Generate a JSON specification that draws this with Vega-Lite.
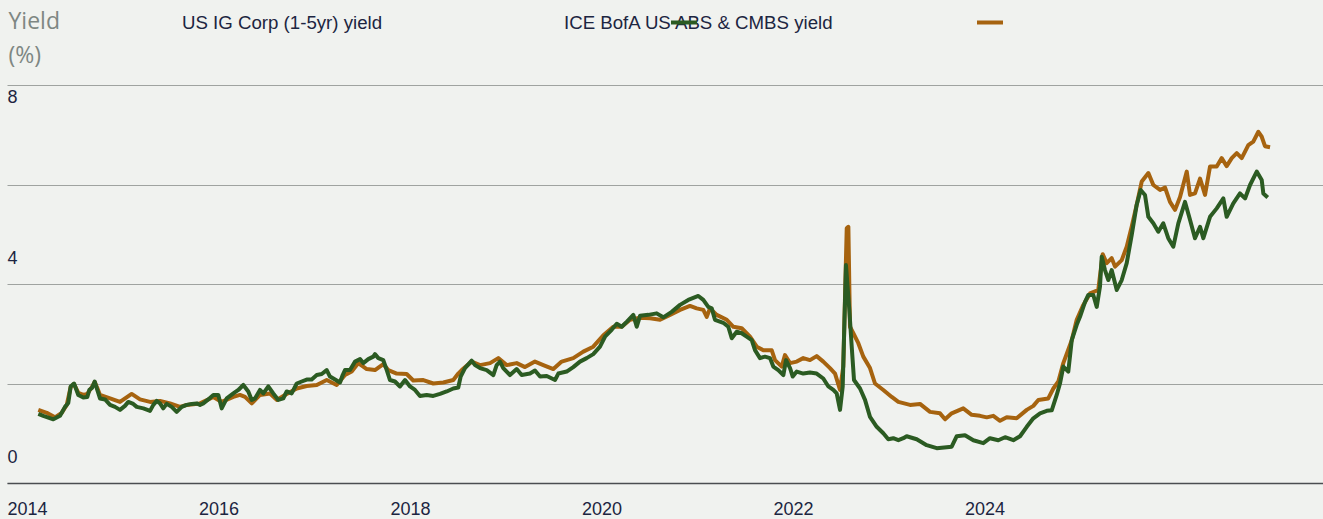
{
  "$schema": "https://vega.github.io/schema/vega-lite/v6.json",
  "width": 1316,
  "height": 398,
  "autosize": {"type": "none"},
  "padding": {"left": 7, "top": 85, "right": 0, "bottom": 36},
  "background": "#f0f2ef",
  "config": {"view": {"stroke": null}, "font": "Liberation Sans"},
  "datasets": {
    "ig": [
      {"series":"US IG Corp (1-5yr) yield","year":2014.327,"yield":1.39},
      {"series":"US IG Corp (1-5yr) yield","year":2014.379,"yield":1.35},
      {"series":"US IG Corp (1-5yr) yield","year":2014.484,"yield":1.28},
      {"series":"US IG Corp (1-5yr) yield","year":2014.554,"yield":1.35},
      {"series":"US IG Corp (1-5yr) yield","year":2014.606,"yield":1.53},
      {"series":"US IG Corp (1-5yr) yield","year":2014.640,"yield":1.61},
      {"series":"US IG Corp (1-5yr) yield","year":2014.665,"yield":1.94},
      {"series":"US IG Corp (1-5yr) yield","year":2014.700,"yield":2.00},
      {"series":"US IG Corp (1-5yr) yield","year":2014.745,"yield":1.77},
      {"series":"US IG Corp (1-5yr) yield","year":2014.797,"yield":1.72},
      {"series":"US IG Corp (1-5yr) yield","year":2014.839,"yield":1.73},
      {"series":"US IG Corp (1-5yr) yield","year":2014.860,"yield":1.87},
      {"series":"US IG Corp (1-5yr) yield","year":2014.888,"yield":1.91},
      {"series":"US IG Corp (1-5yr) yield","year":2014.916,"yield":2.04},
      {"series":"US IG Corp (1-5yr) yield","year":2014.943,"yield":1.87},
      {"series":"US IG Corp (1-5yr) yield","year":2014.971,"yield":1.70},
      {"series":"US IG Corp (1-5yr) yield","year":2015.024,"yield":1.68},
      {"series":"US IG Corp (1-5yr) yield","year":2015.076,"yield":1.57},
      {"series":"US IG Corp (1-5yr) yield","year":2015.128,"yield":1.53},
      {"series":"US IG Corp (1-5yr) yield","year":2015.180,"yield":1.47},
      {"series":"US IG Corp (1-5yr) yield","year":2015.232,"yield":1.55},
      {"series":"US IG Corp (1-5yr) yield","year":2015.267,"yield":1.63},
      {"series":"US IG Corp (1-5yr) yield","year":2015.319,"yield":1.59},
      {"series":"US IG Corp (1-5yr) yield","year":2015.355,"yield":1.53},
      {"series":"US IG Corp (1-5yr) yield","year":2015.424,"yield":1.50},
      {"series":"US IG Corp (1-5yr) yield","year":2015.494,"yield":1.45},
      {"series":"US IG Corp (1-5yr) yield","year":2015.528,"yield":1.57},
      {"series":"US IG Corp (1-5yr) yield","year":2015.564,"yield":1.65},
      {"series":"US IG Corp (1-5yr) yield","year":2015.598,"yield":1.60},
      {"series":"US IG Corp (1-5yr) yield","year":2015.632,"yield":1.50},
      {"series":"US IG Corp (1-5yr) yield","year":2015.668,"yield":1.59},
      {"series":"US IG Corp (1-5yr) yield","year":2015.720,"yield":1.53},
      {"series":"US IG Corp (1-5yr) yield","year":2015.772,"yield":1.43},
      {"series":"US IG Corp (1-5yr) yield","year":2015.825,"yield":1.53},
      {"series":"US IG Corp (1-5yr) yield","year":2015.877,"yield":1.57},
      {"series":"US IG Corp (1-5yr) yield","year":2015.929,"yield":1.59},
      {"series":"US IG Corp (1-5yr) yield","year":2015.981,"yield":1.60},
      {"series":"US IG Corp (1-5yr) yield","year":2016.016,"yield":1.57},
      {"series":"US IG Corp (1-5yr) yield","year":2016.050,"yield":1.60},
      {"series":"US IG Corp (1-5yr) yield","year":2016.102,"yield":1.68},
      {"series":"US IG Corp (1-5yr) yield","year":2016.155,"yield":1.77},
      {"series":"US IG Corp (1-5yr) yield","year":2016.207,"yield":1.77},
      {"series":"US IG Corp (1-5yr) yield","year":2016.242,"yield":1.50},
      {"series":"US IG Corp (1-5yr) yield","year":2016.295,"yield":1.70},
      {"series":"US IG Corp (1-5yr) yield","year":2016.364,"yield":1.80},
      {"series":"US IG Corp (1-5yr) yield","year":2016.416,"yield":1.87},
      {"series":"US IG Corp (1-5yr) yield","year":2016.468,"yield":1.97},
      {"series":"US IG Corp (1-5yr) yield","year":2016.520,"yield":1.84},
      {"series":"US IG Corp (1-5yr) yield","year":2016.556,"yield":1.67},
      {"series":"US IG Corp (1-5yr) yield","year":2016.590,"yield":1.70},
      {"series":"US IG Corp (1-5yr) yield","year":2016.642,"yield":1.87},
      {"series":"US IG Corp (1-5yr) yield","year":2016.677,"yield":1.80},
      {"series":"US IG Corp (1-5yr) yield","year":2016.729,"yield":1.94},
      {"series":"US IG Corp (1-5yr) yield","year":2016.781,"yield":1.80},
      {"series":"US IG Corp (1-5yr) yield","year":2016.834,"yield":1.67},
      {"series":"US IG Corp (1-5yr) yield","year":2016.886,"yield":1.70},
      {"series":"US IG Corp (1-5yr) yield","year":2016.921,"yield":1.84},
      {"series":"US IG Corp (1-5yr) yield","year":2016.973,"yield":1.80},
      {"series":"US IG Corp (1-5yr) yield","year":2017.026,"yield":2.00},
      {"series":"US IG Corp (1-5yr) yield","year":2017.078,"yield":2.04},
      {"series":"US IG Corp (1-5yr) yield","year":2017.130,"yield":2.08},
      {"series":"US IG Corp (1-5yr) yield","year":2017.182,"yield":2.08},
      {"series":"US IG Corp (1-5yr) yield","year":2017.235,"yield":2.17},
      {"series":"US IG Corp (1-5yr) yield","year":2017.287,"yield":2.19},
      {"series":"US IG Corp (1-5yr) yield","year":2017.339,"yield":2.27},
      {"series":"US IG Corp (1-5yr) yield","year":2017.373,"yield":2.14},
      {"series":"US IG Corp (1-5yr) yield","year":2017.426,"yield":2.08},
      {"series":"US IG Corp (1-5yr) yield","year":2017.478,"yield":2.02},
      {"series":"US IG Corp (1-5yr) yield","year":2017.506,"yield":2.17},
      {"series":"US IG Corp (1-5yr) yield","year":2017.530,"yield":2.27},
      {"series":"US IG Corp (1-5yr) yield","year":2017.582,"yield":2.27},
      {"series":"US IG Corp (1-5yr) yield","year":2017.635,"yield":2.44},
      {"series":"US IG Corp (1-5yr) yield","year":2017.687,"yield":2.49},
      {"series":"US IG Corp (1-5yr) yield","year":2017.721,"yield":2.41},
      {"series":"US IG Corp (1-5yr) yield","year":2017.773,"yield":2.49},
      {"series":"US IG Corp (1-5yr) yield","year":2017.826,"yield":2.54},
      {"series":"US IG Corp (1-5yr) yield","year":2017.843,"yield":2.59},
      {"series":"US IG Corp (1-5yr) yield","year":2017.878,"yield":2.51},
      {"series":"US IG Corp (1-5yr) yield","year":2017.930,"yield":2.47},
      {"series":"US IG Corp (1-5yr) yield","year":2017.966,"yield":2.27},
      {"series":"US IG Corp (1-5yr) yield","year":2018.000,"yield":2.07},
      {"series":"US IG Corp (1-5yr) yield","year":2018.052,"yield":2.04},
      {"series":"US IG Corp (1-5yr) yield","year":2018.104,"yield":1.94},
      {"series":"US IG Corp (1-5yr) yield","year":2018.157,"yield":2.07},
      {"series":"US IG Corp (1-5yr) yield","year":2018.209,"yield":1.94},
      {"series":"US IG Corp (1-5yr) yield","year":2018.261,"yield":1.87},
      {"series":"US IG Corp (1-5yr) yield","year":2018.313,"yield":1.75},
      {"series":"US IG Corp (1-5yr) yield","year":2018.383,"yield":1.77},
      {"series":"US IG Corp (1-5yr) yield","year":2018.452,"yield":1.75},
      {"series":"US IG Corp (1-5yr) yield","year":2018.522,"yield":1.79},
      {"series":"US IG Corp (1-5yr) yield","year":2018.592,"yield":1.84},
      {"series":"US IG Corp (1-5yr) yield","year":2018.661,"yield":1.90},
      {"series":"US IG Corp (1-5yr) yield","year":2018.713,"yield":1.92},
      {"series":"US IG Corp (1-5yr) yield","year":2018.738,"yield":2.14},
      {"series":"US IG Corp (1-5yr) yield","year":2018.783,"yield":2.31},
      {"series":"US IG Corp (1-5yr) yield","year":2018.853,"yield":2.46},
      {"series":"US IG Corp (1-5yr) yield","year":2018.888,"yield":2.37},
      {"series":"US IG Corp (1-5yr) yield","year":2018.940,"yield":2.31},
      {"series":"US IG Corp (1-5yr) yield","year":2019.010,"yield":2.27},
      {"series":"US IG Corp (1-5yr) yield","year":2019.079,"yield":2.17},
      {"series":"US IG Corp (1-5yr) yield","year":2019.114,"yield":2.37},
      {"series":"US IG Corp (1-5yr) yield","year":2019.149,"yield":2.44},
      {"series":"US IG Corp (1-5yr) yield","year":2019.183,"yield":2.31},
      {"series":"US IG Corp (1-5yr) yield","year":2019.253,"yield":2.17},
      {"series":"US IG Corp (1-5yr) yield","year":2019.323,"yield":2.29},
      {"series":"US IG Corp (1-5yr) yield","year":2019.375,"yield":2.17},
      {"series":"US IG Corp (1-5yr) yield","year":2019.462,"yield":2.20},
      {"series":"US IG Corp (1-5yr) yield","year":2019.514,"yield":2.26},
      {"series":"US IG Corp (1-5yr) yield","year":2019.567,"yield":2.14},
      {"series":"US IG Corp (1-5yr) yield","year":2019.637,"yield":2.15},
      {"series":"US IG Corp (1-5yr) yield","year":2019.723,"yield":2.07},
      {"series":"US IG Corp (1-5yr) yield","year":2019.758,"yield":2.20},
      {"series":"US IG Corp (1-5yr) yield","year":2019.845,"yield":2.24},
      {"series":"US IG Corp (1-5yr) yield","year":2019.914,"yield":2.33},
      {"series":"US IG Corp (1-5yr) yield","year":2019.984,"yield":2.44},
      {"series":"US IG Corp (1-5yr) yield","year":2020.054,"yield":2.51},
      {"series":"US IG Corp (1-5yr) yield","year":2020.123,"yield":2.59},
      {"series":"US IG Corp (1-5yr) yield","year":2020.193,"yield":2.74},
      {"series":"US IG Corp (1-5yr) yield","year":2020.245,"yield":2.94},
      {"series":"US IG Corp (1-5yr) yield","year":2020.315,"yield":3.08},
      {"series":"US IG Corp (1-5yr) yield","year":2020.368,"yield":3.20},
      {"series":"US IG Corp (1-5yr) yield","year":2020.420,"yield":3.14},
      {"series":"US IG Corp (1-5yr) yield","year":2020.472,"yield":3.24},
      {"series":"US IG Corp (1-5yr) yield","year":2020.541,"yield":3.38},
      {"series":"US IG Corp (1-5yr) yield","year":2020.577,"yield":3.14},
      {"series":"US IG Corp (1-5yr) yield","year":2020.611,"yield":3.36},
      {"series":"US IG Corp (1-5yr) yield","year":2020.698,"yield":3.38},
      {"series":"US IG Corp (1-5yr) yield","year":2020.785,"yield":3.41},
      {"series":"US IG Corp (1-5yr) yield","year":2020.854,"yield":3.33},
      {"series":"US IG Corp (1-5yr) yield","year":2020.942,"yield":3.44},
      {"series":"US IG Corp (1-5yr) yield","year":2021.029,"yield":3.58},
      {"series":"US IG Corp (1-5yr) yield","year":2021.115,"yield":3.68},
      {"series":"US IG Corp (1-5yr) yield","year":2021.220,"yield":3.76},
      {"series":"US IG Corp (1-5yr) yield","year":2021.272,"yield":3.68},
      {"series":"US IG Corp (1-5yr) yield","year":2021.324,"yield":3.54},
      {"series":"US IG Corp (1-5yr) yield","year":2021.360,"yield":3.51},
      {"series":"US IG Corp (1-5yr) yield","year":2021.394,"yield":3.28},
      {"series":"US IG Corp (1-5yr) yield","year":2021.481,"yield":3.22},
      {"series":"US IG Corp (1-5yr) yield","year":2021.533,"yield":3.14},
      {"series":"US IG Corp (1-5yr) yield","year":2021.569,"yield":2.91},
      {"series":"US IG Corp (1-5yr) yield","year":2021.621,"yield":3.04},
      {"series":"US IG Corp (1-5yr) yield","year":2021.673,"yield":3.01},
      {"series":"US IG Corp (1-5yr) yield","year":2021.725,"yield":2.94},
      {"series":"US IG Corp (1-5yr) yield","year":2021.778,"yield":2.87},
      {"series":"US IG Corp (1-5yr) yield","year":2021.812,"yield":2.67},
      {"series":"US IG Corp (1-5yr) yield","year":2021.864,"yield":2.51},
      {"series":"US IG Corp (1-5yr) yield","year":2021.916,"yield":2.54},
      {"series":"US IG Corp (1-5yr) yield","year":2021.969,"yield":2.51},
      {"series":"US IG Corp (1-5yr) yield","year":2022.003,"yield":2.34},
      {"series":"US IG Corp (1-5yr) yield","year":2022.055,"yield":2.27},
      {"series":"US IG Corp (1-5yr) yield","year":2022.108,"yield":2.17},
      {"series":"US IG Corp (1-5yr) yield","year":2022.136,"yield":2.47},
      {"series":"US IG Corp (1-5yr) yield","year":2022.178,"yield":2.31},
      {"series":"US IG Corp (1-5yr) yield","year":2022.206,"yield":2.14},
      {"series":"US IG Corp (1-5yr) yield","year":2022.248,"yield":2.24},
      {"series":"US IG Corp (1-5yr) yield","year":2022.316,"yield":2.20},
      {"series":"US IG Corp (1-5yr) yield","year":2022.386,"yield":2.22},
      {"series":"US IG Corp (1-5yr) yield","year":2022.456,"yield":2.20},
      {"series":"US IG Corp (1-5yr) yield","year":2022.525,"yield":2.10},
      {"series":"US IG Corp (1-5yr) yield","year":2022.578,"yield":1.94},
      {"series":"US IG Corp (1-5yr) yield","year":2022.630,"yield":1.87},
      {"series":"US IG Corp (1-5yr) yield","year":2022.665,"yield":1.80},
      {"series":"US IG Corp (1-5yr) yield","year":2022.700,"yield":1.47},
      {"series":"US IG Corp (1-5yr) yield","year":2022.728,"yield":1.94},
      {"series":"US IG Corp (1-5yr) yield","year":2022.762,"yield":4.38},
      {"series":"US IG Corp (1-5yr) yield","year":2022.797,"yield":3.48},
      {"series":"US IG Corp (1-5yr) yield","year":2022.822,"yield":2.74},
      {"series":"US IG Corp (1-5yr) yield","year":2022.846,"yield":2.07},
      {"series":"US IG Corp (1-5yr) yield","year":2022.909,"yield":1.90},
      {"series":"US IG Corp (1-5yr) yield","year":2022.961,"yield":1.67},
      {"series":"US IG Corp (1-5yr) yield","year":2023.013,"yield":1.33},
      {"series":"US IG Corp (1-5yr) yield","year":2023.083,"yield":1.13},
      {"series":"US IG Corp (1-5yr) yield","year":2023.152,"yield":1.00},
      {"series":"US IG Corp (1-5yr) yield","year":2023.204,"yield":0.88},
      {"series":"US IG Corp (1-5yr) yield","year":2023.256,"yield":0.90},
      {"series":"US IG Corp (1-5yr) yield","year":2023.309,"yield":0.86},
      {"series":"US IG Corp (1-5yr) yield","year":2023.361,"yield":0.90},
      {"series":"US IG Corp (1-5yr) yield","year":2023.396,"yield":0.94},
      {"series":"US IG Corp (1-5yr) yield","year":2023.501,"yield":0.88},
      {"series":"US IG Corp (1-5yr) yield","year":2023.605,"yield":0.76},
      {"series":"US IG Corp (1-5yr) yield","year":2023.710,"yield":0.70},
      {"series":"US IG Corp (1-5yr) yield","year":2023.814,"yield":0.72},
      {"series":"US IG Corp (1-5yr) yield","year":2023.866,"yield":0.73},
      {"series":"US IG Corp (1-5yr) yield","year":2023.919,"yield":0.94},
      {"series":"US IG Corp (1-5yr) yield","year":2024.005,"yield":0.96},
      {"series":"US IG Corp (1-5yr) yield","year":2024.092,"yield":0.86},
      {"series":"US IG Corp (1-5yr) yield","year":2024.196,"yield":0.80},
      {"series":"US IG Corp (1-5yr) yield","year":2024.266,"yield":0.90},
      {"series":"US IG Corp (1-5yr) yield","year":2024.353,"yield":0.86},
      {"series":"US IG Corp (1-5yr) yield","year":2024.423,"yield":0.92},
      {"series":"US IG Corp (1-5yr) yield","year":2024.510,"yield":0.86},
      {"series":"US IG Corp (1-5yr) yield","year":2024.580,"yield":0.94},
      {"series":"US IG Corp (1-5yr) yield","year":2024.650,"yield":1.13},
      {"series":"US IG Corp (1-5yr) yield","year":2024.719,"yield":1.30},
      {"series":"US IG Corp (1-5yr) yield","year":2024.789,"yield":1.40},
      {"series":"US IG Corp (1-5yr) yield","year":2024.859,"yield":1.45},
      {"series":"US IG Corp (1-5yr) yield","year":2024.911,"yield":1.46},
      {"series":"US IG Corp (1-5yr) yield","year":2024.963,"yield":1.77},
      {"series":"US IG Corp (1-5yr) yield","year":2024.997,"yield":2.00},
      {"series":"US IG Corp (1-5yr) yield","year":2025.032,"yield":2.34},
      {"series":"US IG Corp (1-5yr) yield","year":2025.084,"yield":2.24},
      {"series":"US IG Corp (1-5yr) yield","year":2025.120,"yield":2.87},
      {"series":"US IG Corp (1-5yr) yield","year":2025.172,"yield":3.18},
      {"series":"US IG Corp (1-5yr) yield","year":2025.206,"yield":3.34},
      {"series":"US IG Corp (1-5yr) yield","year":2025.259,"yield":3.64},
      {"series":"US IG Corp (1-5yr) yield","year":2025.293,"yield":3.78},
      {"series":"US IG Corp (1-5yr) yield","year":2025.345,"yield":3.78},
      {"series":"US IG Corp (1-5yr) yield","year":2025.381,"yield":3.54},
      {"series":"US IG Corp (1-5yr) yield","year":2025.415,"yield":3.95},
      {"series":"US IG Corp (1-5yr) yield","year":2025.433,"yield":4.55},
      {"series":"US IG Corp (1-5yr) yield","year":2025.467,"yield":4.28},
      {"series":"US IG Corp (1-5yr) yield","year":2025.502,"yield":4.08},
      {"series":"US IG Corp (1-5yr) yield","year":2025.537,"yield":4.28},
      {"series":"US IG Corp (1-5yr) yield","year":2025.590,"yield":3.88},
      {"series":"US IG Corp (1-5yr) yield","year":2025.642,"yield":4.08},
      {"series":"US IG Corp (1-5yr) yield","year":2025.694,"yield":4.42},
      {"series":"US IG Corp (1-5yr) yield","year":2025.746,"yield":4.98},
      {"series":"US IG Corp (1-5yr) yield","year":2025.798,"yield":5.59},
      {"series":"US IG Corp (1-5yr) yield","year":2025.840,"yield":5.89},
      {"series":"US IG Corp (1-5yr) yield","year":2025.885,"yield":5.79},
      {"series":"US IG Corp (1-5yr) yield","year":2025.920,"yield":5.35},
      {"series":"US IG Corp (1-5yr) yield","year":2025.972,"yield":5.22},
      {"series":"US IG Corp (1-5yr) yield","year":2026.024,"yield":5.05},
      {"series":"US IG Corp (1-5yr) yield","year":2026.076,"yield":5.22},
      {"series":"US IG Corp (1-5yr) yield","year":2026.128,"yield":4.92},
      {"series":"US IG Corp (1-5yr) yield","year":2026.181,"yield":4.75},
      {"series":"US IG Corp (1-5yr) yield","year":2026.233,"yield":5.22},
      {"series":"US IG Corp (1-5yr) yield","year":2026.303,"yield":5.65},
      {"series":"US IG Corp (1-5yr) yield","year":2026.355,"yield":5.29},
      {"series":"US IG Corp (1-5yr) yield","year":2026.407,"yield":4.92},
      {"series":"US IG Corp (1-5yr) yield","year":2026.460,"yield":5.15},
      {"series":"US IG Corp (1-5yr) yield","year":2026.494,"yield":4.92},
      {"series":"US IG Corp (1-5yr) yield","year":2026.564,"yield":5.35},
      {"series":"US IG Corp (1-5yr) yield","year":2026.634,"yield":5.52},
      {"series":"US IG Corp (1-5yr) yield","year":2026.703,"yield":5.72},
      {"series":"US IG Corp (1-5yr) yield","year":2026.738,"yield":5.35},
      {"series":"US IG Corp (1-5yr) yield","year":2026.807,"yield":5.62},
      {"series":"US IG Corp (1-5yr) yield","year":2026.877,"yield":5.82},
      {"series":"US IG Corp (1-5yr) yield","year":2026.930,"yield":5.72},
      {"series":"US IG Corp (1-5yr) yield","year":2026.982,"yield":5.99},
      {"series":"US IG Corp (1-5yr) yield","year":2027.052,"yield":6.26},
      {"series":"US IG Corp (1-5yr) yield","year":2027.104,"yield":6.09},
      {"series":"US IG Corp (1-5yr) yield","year":2027.121,"yield":5.82},
      {"series":"US IG Corp (1-5yr) yield","year":2027.167,"yield":5.74}
    ],
    "abs": [
      {"series":"ICE BofA US ABS & CMBS yield","year":2014.327,"yield":1.47},
      {"series":"ICE BofA US ABS & CMBS yield","year":2014.415,"yield":1.41},
      {"series":"ICE BofA US ABS & CMBS yield","year":2014.501,"yield":1.32},
      {"series":"ICE BofA US ABS & CMBS yield","year":2014.571,"yield":1.41},
      {"series":"ICE BofA US ABS & CMBS yield","year":2014.624,"yield":1.57},
      {"series":"ICE BofA US ABS & CMBS yield","year":2014.665,"yield":1.93},
      {"series":"ICE BofA US ABS & CMBS yield","year":2014.700,"yield":1.99},
      {"series":"ICE BofA US ABS & CMBS yield","year":2014.745,"yield":1.81},
      {"series":"ICE BofA US ABS & CMBS yield","year":2014.797,"yield":1.77},
      {"series":"ICE BofA US ABS & CMBS yield","year":2014.839,"yield":1.79},
      {"series":"ICE BofA US ABS & CMBS yield","year":2014.888,"yield":1.93},
      {"series":"ICE BofA US ABS & CMBS yield","year":2014.916,"yield":2.03},
      {"series":"ICE BofA US ABS & CMBS yield","year":2014.943,"yield":1.91},
      {"series":"ICE BofA US ABS & CMBS yield","year":2014.971,"yield":1.77},
      {"series":"ICE BofA US ABS & CMBS yield","year":2015.076,"yield":1.70},
      {"series":"ICE BofA US ABS & CMBS yield","year":2015.180,"yield":1.63},
      {"series":"ICE BofA US ABS & CMBS yield","year":2015.302,"yield":1.79},
      {"series":"ICE BofA US ABS & CMBS yield","year":2015.389,"yield":1.68},
      {"series":"ICE BofA US ABS & CMBS yield","year":2015.494,"yield":1.63},
      {"series":"ICE BofA US ABS & CMBS yield","year":2015.598,"yield":1.65},
      {"series":"ICE BofA US ABS & CMBS yield","year":2015.702,"yield":1.60},
      {"series":"ICE BofA US ABS & CMBS yield","year":2015.807,"yield":1.53},
      {"series":"ICE BofA US ABS & CMBS yield","year":2015.877,"yield":1.57},
      {"series":"ICE BofA US ABS & CMBS yield","year":2016.016,"yield":1.60},
      {"series":"ICE BofA US ABS & CMBS yield","year":2016.155,"yield":1.73},
      {"series":"ICE BofA US ABS & CMBS yield","year":2016.242,"yield":1.63},
      {"series":"ICE BofA US ABS & CMBS yield","year":2016.364,"yield":1.73},
      {"series":"ICE BofA US ABS & CMBS yield","year":2016.433,"yield":1.77},
      {"series":"ICE BofA US ABS & CMBS yield","year":2016.486,"yield":1.73},
      {"series":"ICE BofA US ABS & CMBS yield","year":2016.556,"yield":1.60},
      {"series":"ICE BofA US ABS & CMBS yield","year":2016.642,"yield":1.77},
      {"series":"ICE BofA US ABS & CMBS yield","year":2016.747,"yield":1.80},
      {"series":"ICE BofA US ABS & CMBS yield","year":2016.817,"yield":1.67},
      {"series":"ICE BofA US ABS & CMBS yield","year":2016.921,"yield":1.79},
      {"series":"ICE BofA US ABS & CMBS yield","year":2017.026,"yield":1.90},
      {"series":"ICE BofA US ABS & CMBS yield","year":2017.130,"yield":1.95},
      {"series":"ICE BofA US ABS & CMBS yield","year":2017.235,"yield":1.97},
      {"series":"ICE BofA US ABS & CMBS yield","year":2017.339,"yield":2.07},
      {"series":"ICE BofA US ABS & CMBS yield","year":2017.443,"yield":1.97},
      {"series":"ICE BofA US ABS & CMBS yield","year":2017.530,"yield":2.17},
      {"series":"ICE BofA US ABS & CMBS yield","year":2017.600,"yield":2.24},
      {"series":"ICE BofA US ABS & CMBS yield","year":2017.669,"yield":2.41},
      {"series":"ICE BofA US ABS & CMBS yield","year":2017.757,"yield":2.29},
      {"series":"ICE BofA US ABS & CMBS yield","year":2017.843,"yield":2.27},
      {"series":"ICE BofA US ABS & CMBS yield","year":2017.930,"yield":2.39},
      {"series":"ICE BofA US ABS & CMBS yield","year":2017.982,"yield":2.27},
      {"series":"ICE BofA US ABS & CMBS yield","year":2018.070,"yield":2.20},
      {"series":"ICE BofA US ABS & CMBS yield","year":2018.174,"yield":2.19},
      {"series":"ICE BofA US ABS & CMBS yield","year":2018.243,"yield":2.06},
      {"series":"ICE BofA US ABS & CMBS yield","year":2018.348,"yield":2.07},
      {"series":"ICE BofA US ABS & CMBS yield","year":2018.452,"yield":2.00},
      {"series":"ICE BofA US ABS & CMBS yield","year":2018.557,"yield":2.02},
      {"series":"ICE BofA US ABS & CMBS yield","year":2018.661,"yield":2.07},
      {"series":"ICE BofA US ABS & CMBS yield","year":2018.713,"yield":2.20},
      {"series":"ICE BofA US ABS & CMBS yield","year":2018.749,"yield":2.27},
      {"series":"ICE BofA US ABS & CMBS yield","year":2018.853,"yield":2.44},
      {"series":"ICE BofA US ABS & CMBS yield","year":2018.940,"yield":2.37},
      {"series":"ICE BofA US ABS & CMBS yield","year":2019.045,"yield":2.41},
      {"series":"ICE BofA US ABS & CMBS yield","year":2019.131,"yield":2.51},
      {"series":"ICE BofA US ABS & CMBS yield","year":2019.219,"yield":2.37},
      {"series":"ICE BofA US ABS & CMBS yield","year":2019.323,"yield":2.41},
      {"series":"ICE BofA US ABS & CMBS yield","year":2019.410,"yield":2.33},
      {"series":"ICE BofA US ABS & CMBS yield","year":2019.514,"yield":2.44},
      {"series":"ICE BofA US ABS & CMBS yield","year":2019.601,"yield":2.37},
      {"series":"ICE BofA US ABS & CMBS yield","year":2019.706,"yield":2.29},
      {"series":"ICE BofA US ABS & CMBS yield","year":2019.793,"yield":2.44},
      {"series":"ICE BofA US ABS & CMBS yield","year":2019.914,"yield":2.51},
      {"series":"ICE BofA US ABS & CMBS yield","year":2020.019,"yield":2.64},
      {"series":"ICE BofA US ABS & CMBS yield","year":2020.123,"yield":2.74},
      {"series":"ICE BofA US ABS & CMBS yield","year":2020.228,"yield":2.97},
      {"series":"ICE BofA US ABS & CMBS yield","year":2020.332,"yield":3.14},
      {"series":"ICE BofA US ABS & CMBS yield","year":2020.420,"yield":3.14},
      {"series":"ICE BofA US ABS & CMBS yield","year":2020.507,"yield":3.28},
      {"series":"ICE BofA US ABS & CMBS yield","year":2020.611,"yield":3.32},
      {"series":"ICE BofA US ABS & CMBS yield","year":2020.716,"yield":3.31},
      {"series":"ICE BofA US ABS & CMBS yield","year":2020.820,"yield":3.28},
      {"series":"ICE BofA US ABS & CMBS yield","year":2020.924,"yield":3.38},
      {"series":"ICE BofA US ABS & CMBS yield","year":2021.029,"yield":3.48},
      {"series":"ICE BofA US ABS & CMBS yield","year":2021.133,"yield":3.56},
      {"series":"ICE BofA US ABS & CMBS yield","year":2021.203,"yield":3.51},
      {"series":"ICE BofA US ABS & CMBS yield","year":2021.272,"yield":3.48},
      {"series":"ICE BofA US ABS & CMBS yield","year":2021.308,"yield":3.34},
      {"series":"ICE BofA US ABS & CMBS yield","year":2021.342,"yield":3.51},
      {"series":"ICE BofA US ABS & CMBS yield","year":2021.412,"yield":3.38},
      {"series":"ICE BofA US ABS & CMBS yield","year":2021.517,"yield":3.28},
      {"series":"ICE BofA US ABS & CMBS yield","year":2021.586,"yield":3.14},
      {"series":"ICE BofA US ABS & CMBS yield","year":2021.673,"yield":3.11},
      {"series":"ICE BofA US ABS & CMBS yield","year":2021.760,"yield":2.94},
      {"series":"ICE BofA US ABS & CMBS yield","year":2021.830,"yield":2.74},
      {"series":"ICE BofA US ABS & CMBS yield","year":2021.899,"yield":2.67},
      {"series":"ICE BofA US ABS & CMBS yield","year":2021.986,"yield":2.67},
      {"series":"ICE BofA US ABS & CMBS yield","year":2022.021,"yield":2.47},
      {"series":"ICE BofA US ABS & CMBS yield","year":2022.091,"yield":2.34},
      {"series":"ICE BofA US ABS & CMBS yield","year":2022.125,"yield":2.57},
      {"series":"ICE BofA US ABS & CMBS yield","year":2022.178,"yield":2.41},
      {"series":"ICE BofA US ABS & CMBS yield","year":2022.248,"yield":2.44},
      {"series":"ICE BofA US ABS & CMBS yield","year":2022.316,"yield":2.51},
      {"series":"ICE BofA US ABS & CMBS yield","year":2022.386,"yield":2.47},
      {"series":"ICE BofA US ABS & CMBS yield","year":2022.456,"yield":2.55},
      {"series":"ICE BofA US ABS & CMBS yield","year":2022.525,"yield":2.44},
      {"series":"ICE BofA US ABS & CMBS yield","year":2022.595,"yield":2.31},
      {"series":"ICE BofA US ABS & CMBS yield","year":2022.648,"yield":2.20},
      {"series":"ICE BofA US ABS & CMBS yield","year":2022.700,"yield":1.87},
      {"series":"ICE BofA US ABS & CMBS yield","year":2022.734,"yield":2.34},
      {"series":"ICE BofA US ABS & CMBS yield","year":2022.770,"yield":5.12},
      {"series":"ICE BofA US ABS & CMBS yield","year":2022.787,"yield":5.15},
      {"series":"ICE BofA US ABS & CMBS yield","year":2022.804,"yield":3.14},
      {"series":"ICE BofA US ABS & CMBS yield","year":2022.839,"yield":3.01},
      {"series":"ICE BofA US ABS & CMBS yield","year":2022.891,"yield":2.81},
      {"series":"ICE BofA US ABS & CMBS yield","year":2022.943,"yield":2.54},
      {"series":"ICE BofA US ABS & CMBS yield","year":2023.013,"yield":2.31},
      {"series":"ICE BofA US ABS & CMBS yield","year":2023.065,"yield":2.00},
      {"series":"ICE BofA US ABS & CMBS yield","year":2023.152,"yield":1.87},
      {"series":"ICE BofA US ABS & CMBS yield","year":2023.240,"yield":1.73},
      {"series":"ICE BofA US ABS & CMBS yield","year":2023.309,"yield":1.63},
      {"series":"ICE BofA US ABS & CMBS yield","year":2023.431,"yield":1.57},
      {"series":"ICE BofA US ABS & CMBS yield","year":2023.535,"yield":1.59},
      {"series":"ICE BofA US ABS & CMBS yield","year":2023.640,"yield":1.43},
      {"series":"ICE BofA US ABS & CMBS yield","year":2023.744,"yield":1.40},
      {"series":"ICE BofA US ABS & CMBS yield","year":2023.797,"yield":1.28},
      {"series":"ICE BofA US ABS & CMBS yield","year":2023.866,"yield":1.40},
      {"series":"ICE BofA US ABS & CMBS yield","year":2023.987,"yield":1.50},
      {"series":"ICE BofA US ABS & CMBS yield","year":2024.075,"yield":1.37},
      {"series":"ICE BofA US ABS & CMBS yield","year":2024.162,"yield":1.35},
      {"series":"ICE BofA US ABS & CMBS yield","year":2024.232,"yield":1.32},
      {"series":"ICE BofA US ABS & CMBS yield","year":2024.301,"yield":1.35},
      {"series":"ICE BofA US ABS & CMBS yield","year":2024.371,"yield":1.25},
      {"series":"ICE BofA US ABS & CMBS yield","year":2024.441,"yield":1.32},
      {"series":"ICE BofA US ABS & CMBS yield","year":2024.545,"yield":1.30},
      {"series":"ICE BofA US ABS & CMBS yield","year":2024.650,"yield":1.47},
      {"series":"ICE BofA US ABS & CMBS yield","year":2024.719,"yield":1.55},
      {"series":"ICE BofA US ABS & CMBS yield","year":2024.771,"yield":1.67},
      {"series":"ICE BofA US ABS & CMBS yield","year":2024.875,"yield":1.70},
      {"series":"ICE BofA US ABS & CMBS yield","year":2024.928,"yield":1.90},
      {"series":"ICE BofA US ABS & CMBS yield","year":2024.980,"yield":2.04},
      {"series":"ICE BofA US ABS & CMBS yield","year":2025.032,"yield":2.41},
      {"series":"ICE BofA US ABS & CMBS yield","year":2025.120,"yield":2.87},
      {"series":"ICE BofA US ABS & CMBS yield","year":2025.172,"yield":3.28},
      {"series":"ICE BofA US ABS & CMBS yield","year":2025.241,"yield":3.58},
      {"series":"ICE BofA US ABS & CMBS yield","year":2025.311,"yield":3.81},
      {"series":"ICE BofA US ABS & CMBS yield","year":2025.397,"yield":3.88},
      {"series":"ICE BofA US ABS & CMBS yield","year":2025.443,"yield":4.60},
      {"series":"ICE BofA US ABS & CMBS yield","year":2025.485,"yield":4.42},
      {"series":"ICE BofA US ABS & CMBS yield","year":2025.537,"yield":4.52},
      {"series":"ICE BofA US ABS & CMBS yield","year":2025.572,"yield":4.35},
      {"series":"ICE BofA US ABS & CMBS yield","year":2025.642,"yield":4.48},
      {"series":"ICE BofA US ABS & CMBS yield","year":2025.694,"yield":4.75},
      {"series":"ICE BofA US ABS & CMBS yield","year":2025.746,"yield":5.15},
      {"series":"ICE BofA US ABS & CMBS yield","year":2025.798,"yield":5.59},
      {"series":"ICE BofA US ABS & CMBS yield","year":2025.851,"yield":6.06},
      {"series":"ICE BofA US ABS & CMBS yield","year":2025.920,"yield":6.23},
      {"series":"ICE BofA US ABS & CMBS yield","year":2025.972,"yield":5.99},
      {"series":"ICE BofA US ABS & CMBS yield","year":2026.042,"yield":5.89},
      {"series":"ICE BofA US ABS & CMBS yield","year":2026.094,"yield":5.94},
      {"series":"ICE BofA US ABS & CMBS yield","year":2026.146,"yield":5.65},
      {"series":"ICE BofA US ABS & CMBS yield","year":2026.199,"yield":5.49},
      {"series":"ICE BofA US ABS & CMBS yield","year":2026.251,"yield":5.75},
      {"series":"ICE BofA US ABS & CMBS yield","year":2026.321,"yield":6.26},
      {"series":"ICE BofA US ABS & CMBS yield","year":2026.355,"yield":5.79},
      {"series":"ICE BofA US ABS & CMBS yield","year":2026.407,"yield":5.82},
      {"series":"ICE BofA US ABS & CMBS yield","year":2026.460,"yield":6.12},
      {"series":"ICE BofA US ABS & CMBS yield","year":2026.512,"yield":5.79},
      {"series":"ICE BofA US ABS & CMBS yield","year":2026.564,"yield":6.36},
      {"series":"ICE BofA US ABS & CMBS yield","year":2026.634,"yield":6.36},
      {"series":"ICE BofA US ABS & CMBS yield","year":2026.686,"yield":6.53},
      {"series":"ICE BofA US ABS & CMBS yield","year":2026.738,"yield":6.37},
      {"series":"ICE BofA US ABS & CMBS yield","year":2026.791,"yield":6.53},
      {"series":"ICE BofA US ABS & CMBS yield","year":2026.843,"yield":6.63},
      {"series":"ICE BofA US ABS & CMBS yield","year":2026.895,"yield":6.53},
      {"series":"ICE BofA US ABS & CMBS yield","year":2026.964,"yield":6.79},
      {"series":"ICE BofA US ABS & CMBS yield","year":2027.016,"yield":6.86},
      {"series":"ICE BofA US ABS & CMBS yield","year":2027.069,"yield":7.06},
      {"series":"ICE BofA US ABS & CMBS yield","year":2027.104,"yield":6.96},
      {"series":"ICE BofA US ABS & CMBS yield","year":2027.138,"yield":6.77},
      {"series":"ICE BofA US ABS & CMBS yield","year":2027.191,"yield":6.75}
    ]
  },
  "encoding": {
    "x": {
      "field": "year",
      "type": "quantitative",
      "scale": {"domain": [2014, 2027.744], "nice": false, "zero": false},
      "axis": {
        "values": [2014, 2016, 2018, 2020, 2022, 2024],
        "format": "d",
        "title": null,
        "grid": false,
        "ticks": false,
        "tickSize": 0,
        "labelAlign": "left",
        "labelBaseline": "top",
        "labelPadding": 17,
        "labelFlush": false,
        "labelOverlap": false,
        "labelFont": "Liberation Sans",
        "labelFontSize": 18,
        "labelColor": "#1c2541",
        "domainColor": "#4a4d50",
        "domainWidth": 1.5
      }
    },
    "y": {
      "field": "yield",
      "type": "quantitative",
      "scale": {"domain": [0, 8], "nice": false},
      "axis": {
        "values": [0, 2, 4, 6, 8],
        "labelExpr": "datum.value % 4 == 0 ? datum.label : ''",
        "title": ["Yield", "(%)"],
        "titleAngle": 0,
        "titleAlign": "left",
        "titleBaseline": "alphabetic",
        "titleX": 1,
        "titleY": -57,
        "titleFont": "Open Sans",
        "titleFontSize": 23,
        "titleFontWeight": "normal",
        "titleColor": "#7e8783",
        "titleLineHeight": 34,
        "domain": false,
        "ticks": false,
        "tickSize": 0,
        "labelAlign": "left",
        "labelBaseline": "middle",
        "labelPadding": 0,
        "labelFlush": false,
        "labelOffset": {"condition": {"test": "datum.value == 8", "value": 12}, "value": -26},
        "labelFont": "Liberation Sans",
        "labelFontSize": 18,
        "labelColor": "#1c2541",
        "grid": true,
        "gridColor": "#9fa3a0",
        "gridWidth": 1
      }
    }
  },
  "layer": [
    {
      "data": {"name": "abs"},
      "mark": {"type": "line", "strokeWidth": 4, "strokeJoin": "round"},
      "encoding": {
        "stroke": {
          "field": "series",
          "type": "nominal",
          "scale": {"range": ["#a6630f"]},
          "legend": {
            "orient": "none",
            "legendX": 968,
            "legendY": -77.5,
            "title": null,
            "padding": 0,
            "symbolType": "stroke",
            "symbolSize": 676,
            "symbolStrokeWidth": 4,
            "labelOffset": -441,
            "labelFont": "Liberation Sans",
            "labelFontSize": 18.67,
            "labelColor": "#1c2541",
            "labelLimit": 400
          }
        }
      }
    },
    {
      "data": {"name": "ig"},
      "mark": {"type": "line", "strokeWidth": 4, "strokeJoin": "round"},
      "encoding": {
        "color": {
          "field": "series",
          "type": "nominal",
          "scale": {"range": ["#2b5b22"]},
          "legend": {
            "orient": "none",
            "legendX": 662,
            "legendY": -77.5,
            "title": null,
            "padding": 0,
            "symbolType": "stroke",
            "symbolSize": 676,
            "symbolStrokeWidth": 4,
            "labelOffset": -517,
            "labelFont": "Liberation Sans",
            "labelFontSize": 18.67,
            "labelColor": "#1c2541",
            "labelLimit": 400
          }
        }
      }
    }
  ]
}
